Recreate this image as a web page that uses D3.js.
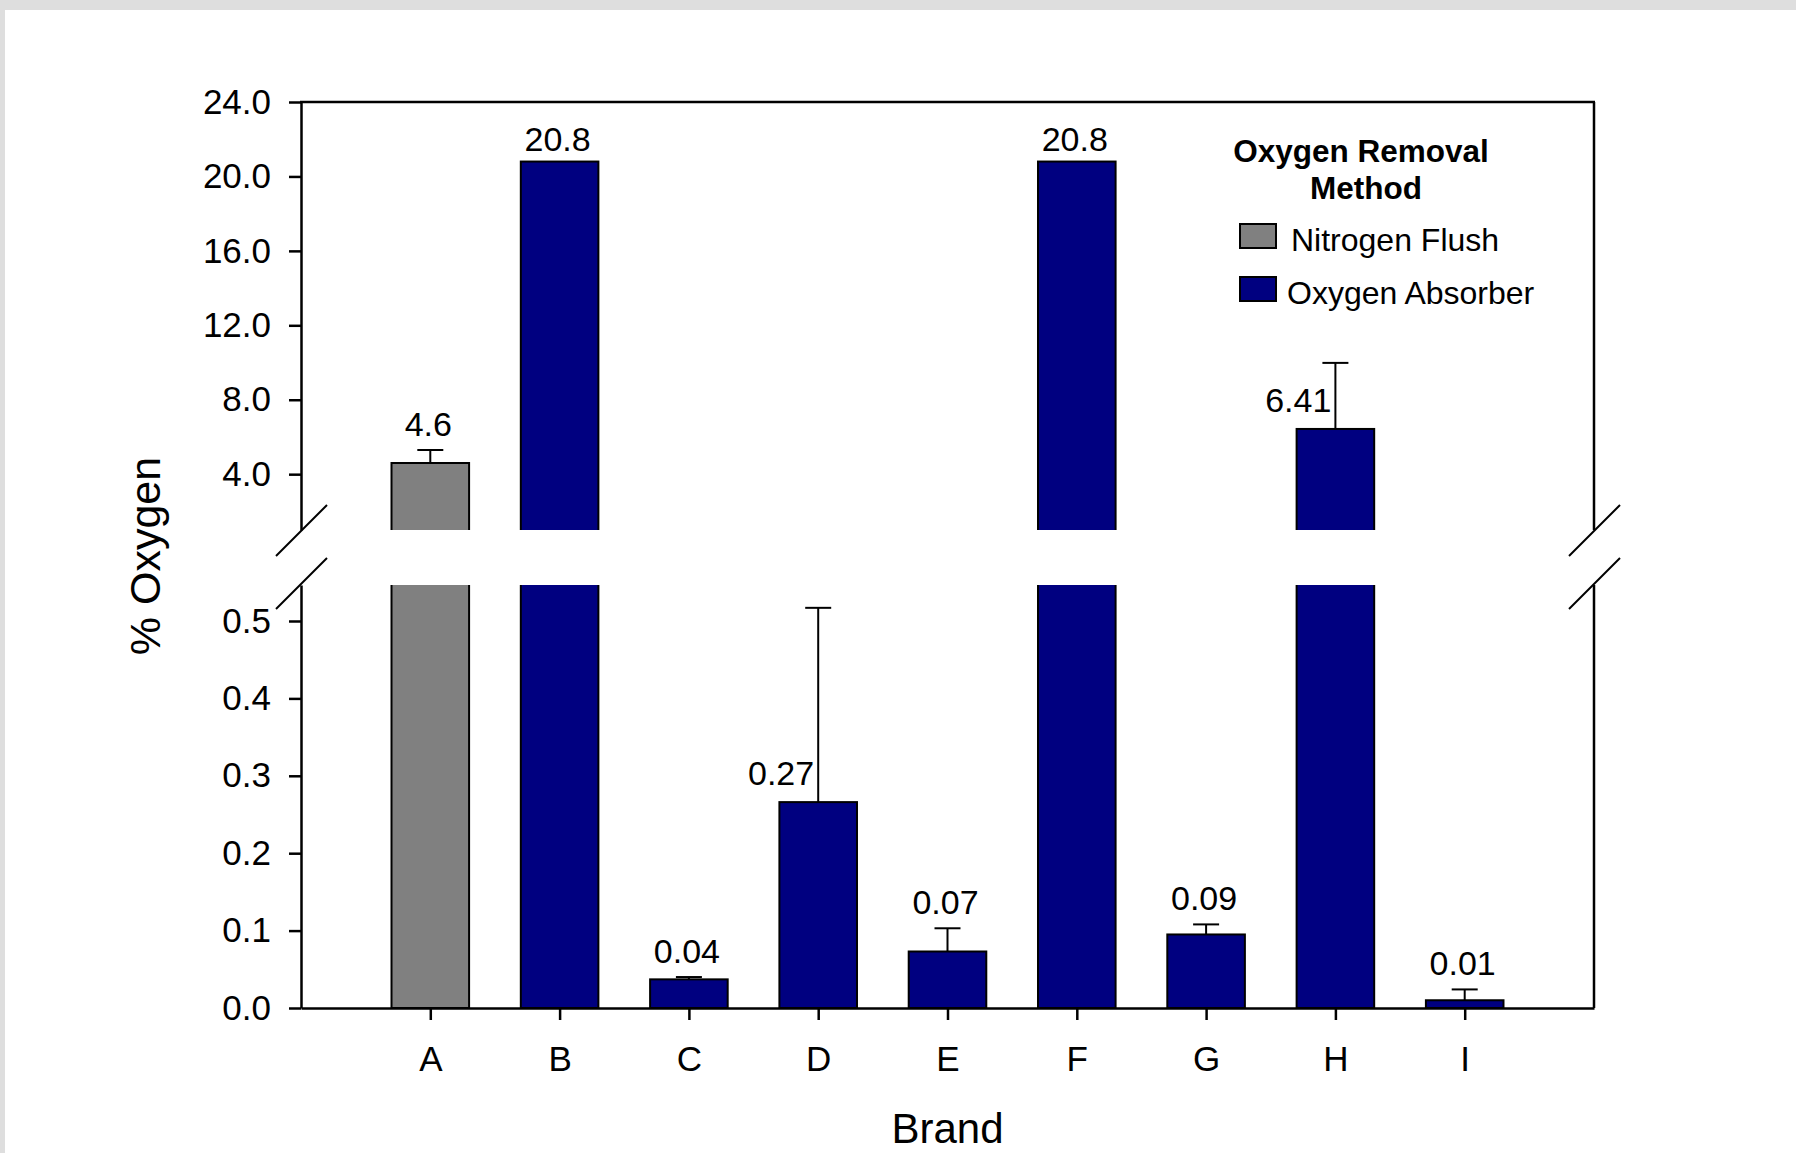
<!DOCTYPE html>
<html>
<head>
<meta charset="utf-8">
<script src="https://cdn.jsdelivr.net/npm/d3@7"></script>
<style>
  html, body { margin: 0; padding: 0; background: #ffffff; }
  svg { display: block; }
  text { font-family: "Liberation Sans", Arial, sans-serif; fill: #000; }
</style>
</head>
<body>
<svg id="chart" width="1796" height="1153"></svg>
<script>
// ---- data ----
const brands = ["A", "B", "C", "D", "E", "F", "G", "H", "I"];
const oxygenValues = [4.6, 20.8, 0.037, 0.266, 0.073, 20.8, 0.095, 6.43, 0.010];
const errorValues = [0.7, 0, 0.003, 0.251, 0.03, 0, 0.013, 3.55, 0.014];
const valueLabels = ["4.6", "20.8", "0.04", "0.27", "0.07", "20.8", "0.09", "6.41", "0.01"];
const methods = ["Nitrogen Flush", "Oxygen Absorber", "Oxygen Absorber", "Oxygen Absorber", "Oxygen Absorber",
                 "Oxygen Absorber", "Oxygen Absorber", "Oxygen Absorber", "Oxygen Absorber"];
const methodNames = ["Nitrogen Flush", "Oxygen Absorber"];
const upperTicks = [4, 8, 12, 16, 20, 24];
const lowerTicks = [0, 0.1, 0.2, 0.3, 0.4, 0.5];
const upperDomain = [1, 24];
const lowerDomain = [0, 0.5465];

const colors = { "Nitrogen Flush": "#808080", "Oxygen Absorber": "#000080" };

const svg = d3.select("#chart");
const W = 1796, H = 1153;

// background texture border (top and left strips)
svg.append("rect").attr("x", 0).attr("y", 0).attr("width", W).attr("height", H).attr("fill", "#ffffff");
svg.append("rect").attr("x", 0).attr("y", 0).attr("width", W).attr("height", 10).attr("fill", "#dedede");
svg.append("rect").attr("x", 0).attr("y", 0).attr("width", 5).attr("height", H).attr("fill", "#dedede");

const left = 301, right = 1594;
const x = d3.scalePoint().domain(brands).range([left, right]).padding(1);
const yUp = d3.scaleLinear().domain(upperDomain).range([530, 102]);
const yLo = d3.scaleLinear().domain(lowerDomain).range([1008, 585]);
const barW = x.step() * 0.6;

const data = brands.map((b, i) => ({
  brand: b, value: oxygenValues[i], err: errorValues[i], label: valueLabels[i], method: methods[i]
}));

// clip paths for the two panels
const defs = svg.append("defs");
defs.append("clipPath").attr("id", "clipUp").append("rect")
  .attr("x", left - 5).attr("y", yUp.range()[1] - 20).attr("width", right - left + 10)
  .attr("height", yUp.range()[0] - yUp.range()[1] + 20);
defs.append("clipPath").attr("id", "clipLo").append("rect")
  .attr("x", left - 5).attr("y", yLo.range()[1]).attr("width", right - left + 10)
  .attr("height", yLo.range()[0] - yLo.range()[1] + 10);

// upper bars
svg.append("g").attr("clip-path", "url(#clipUp)")
  .selectAll("rect").data(data.filter(d => d.value > upperDomain[0])).join("rect")
  .attr("x", d => x(d.brand) - barW / 2)
  .attr("width", barW)
  .attr("y", d => yUp(d.value))
  .attr("height", d => yUp.range()[0] + 10 - yUp(d.value))
  .attr("fill", d => colors[d.method])
  .attr("stroke", "#000").attr("stroke-width", 2);

// lower bars
svg.append("g").attr("clip-path", "url(#clipLo)")
  .selectAll("rect").data(data).join("rect")
  .attr("x", d => x(d.brand) - barW / 2)
  .attr("width", barW)
  .attr("y", d => d.value > lowerDomain[1] ? yLo.range()[1] - 10 : yLo(d.value))
  .attr("height", d => yLo(0) - (d.value > lowerDomain[1] ? yLo.range()[1] - 10 : yLo(d.value)))
  .attr("fill", d => colors[d.method])
  .attr("stroke", "#000").attr("stroke-width", 2);

function yOf(v) { return v > upperDomain[0] ? yUp(v) : yLo(v); }

// error bars (upper only)
const eg = svg.append("g").attr("stroke", "#000").attr("stroke-width", 2);
data.filter(d => d.err > 0).forEach(d => {
  const cx = x(d.brand), y0 = yOf(d.value), y1 = yOf(d.value + d.err);
  eg.append("line").attr("x1", cx).attr("x2", cx).attr("y1", y0).attr("y2", y1);
  eg.append("line").attr("x1", cx - 13).attr("x2", cx + 13).attr("y1", y1).attr("y2", y1);
});

// value labels
svg.append("g").selectAll("text").data(data).join("text")
  .attr("font-size", 34)
  .each(function (d) {
    const cx = x(d.brand), y0 = yOf(d.value), y1 = yOf(d.value + d.err);
    const t = d3.select(this).text(d.label);
    if (y0 - y1 > 40) {
      t.attr("x", cx - 4).attr("y", y0 - 17).attr("text-anchor", "end");
    } else {
      t.attr("x", cx - 2).attr("y", Math.min(y0, y1) - (d.err > 0 ? 14 : 11)).attr("text-anchor", "middle");
    }
  });

// axes
function styleAxis(g) {
  g.selectAll("path.domain").attr("stroke", "#000").attr("stroke-width", 2.5);
  g.selectAll(".tick line").attr("stroke", "#000").attr("stroke-width", 2.5);
  g.selectAll(".tick text").attr("font-size", 35).attr("fill", "#000")
    .attr("font-family", "'Liberation Sans', Arial, sans-serif");
}
svg.append("g").attr("transform", `translate(${left},0)`)
  .call(d3.axisLeft(yUp).tickValues(upperTicks).tickFormat(d3.format(".1f"))
    .tickSize(12).tickSizeOuter(0).tickPadding(18))
  .call(styleAxis);
svg.append("g").attr("transform", `translate(${left},0)`)
  .call(d3.axisLeft(yLo).tickValues(lowerTicks).tickFormat(d3.format(".1f"))
    .tickSize(12).tickSizeOuter(0).tickPadding(18))
  .call(styleAxis);
const xg = svg.append("g").attr("transform", `translate(0,${yLo(0)})`)
  .call(d3.axisBottom(x).tickSize(12).tickSizeOuter(0).tickPadding(26))
  .call(styleAxis);
xg.selectAll(".tick text").attr("dy", "0.71em");

// frame: top and right
const fr = svg.append("g").attr("stroke", "#000").attr("stroke-width", 2.5).attr("fill", "none");
fr.append("line").attr("x1", left - 1).attr("x2", right + 1).attr("y1", yUp(24)).attr("y2", yUp(24));
fr.append("line").attr("x1", right).attr("x2", right).attr("y1", yUp(24)).attr("y2", yUp.range()[0]);
fr.append("line").attr("x1", right).attr("x2", right).attr("y1", yLo.range()[1]).attr("y2", yLo(0));

// break marks
const br = svg.append("g").attr("stroke", "#000").attr("stroke-width", 2);
[left, right].forEach(ax => {
  [yUp.range()[0], yLo.range()[1] - 2].forEach(yy => {
    br.append("line").attr("x1", ax - 25).attr("y1", yy + 26).attr("x2", ax + 26).attr("y2", yy - 25);
  });
});

// axis titles
svg.append("text").attr("x", (left + right) / 2).attr("y", 1143)
  .attr("text-anchor", "middle").attr("font-size", 42).text("Brand");
svg.append("text").attr("transform", "translate(160,556) rotate(-90)")
  .attr("text-anchor", "middle").attr("font-size", 43).text("% Oxygen");

// legend
const lg = svg.append("g");
lg.append("text").attr("x", 1361).attr("y", 162).attr("text-anchor", "middle")
  .attr("font-size", 31.5).attr("font-weight", "bold").text("Oxygen Removal");
lg.append("text").attr("x", 1366).attr("y", 199).attr("text-anchor", "middle")
  .attr("font-size", 31.5).attr("font-weight", "bold").text("Method");
const legY = [224, 277];
const legTX = [1291, 1287];
methodNames.forEach((m, i) => {
  lg.append("rect").attr("x", 1240).attr("y", legY[i]).attr("width", 36).attr("height", 24)
    .attr("fill", colors[m]).attr("stroke", "#000").attr("stroke-width", 2);
  lg.append("text").attr("x", legTX[i]).attr("y", legY[i] + 27).attr("font-size", 32).text(m);
});
</script>
</body>
</html>
